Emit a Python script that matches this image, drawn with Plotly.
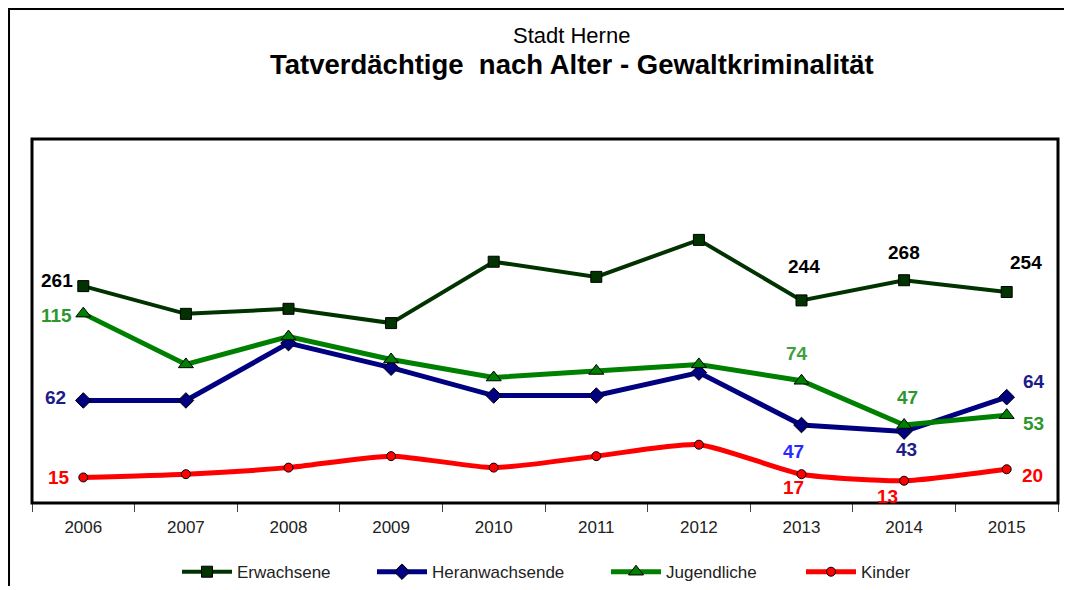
import plotly.graph_objects as go

# ---- data ----
years = ["2006", "2007", "2008", "2009", "2010", "2011", "2012", "2013", "2014", "2015"]
erwachsene = [261, 228, 234, 217, 290, 272, 316, 244, 268, 254]
heranwachsende = [62, 62, 97, 82, 65, 65, 79, 47, 43, 64]
jugendliche = [115, 84, 101, 87, 76, 80, 84, 74, 47, 53]
kinder = [15, 17, 21, 28, 21, 28, 35, 17, 13, 20]

xpos = list(range(len(years)))

FONT = "Arial, Liberation Sans, sans-serif"

fig = go.Figure()

fig.add_trace(go.Scatter(
    x=xpos, y=erwachsene, name="Erwachsene", yaxis="y2", mode="lines+markers",
    line=dict(color="#003300", width=4),
    marker=dict(symbol="square", size=11, color="#003300", line=dict(color="#000000", width=1)),
    legend="legend"))
fig.add_trace(go.Scatter(
    x=xpos, y=heranwachsende, name="Heranwachsende", mode="lines+markers",
    line=dict(color="#000080", width=5),
    marker=dict(symbol="diamond", size=12, color="#000080", line=dict(color="#000000", width=1)),
    legend="legend2"))
fig.add_trace(go.Scatter(
    x=xpos, y=jugendliche, name="Jugendliche", mode="lines+markers",
    line=dict(color="#008000", width=5),
    marker=dict(symbol="triangle-up", size=13, color="#008000", line=dict(color="#000000", width=1)),
    legend="legend3"))
fig.add_trace(go.Scatter(
    x=xpos, y=kinder, name="Kinder", mode="lines+markers",
    line=dict(color="#FF0000", width=5, shape="spline", smoothing=0.6),
    marker=dict(symbol="circle", size=9, color="#FF0000", line=dict(color="#000000", width=1)),
    legend="legend4"))

# ---- data labels ----
def lab(year, series, text, color, xs, ys, yref="y", xanchor="center"):
    i = years.index(year)
    fig.add_annotation(x=xpos[i], y=series[i], yref=yref, text=text, showarrow=False,
                       xshift=xs, yshift=ys, xanchor=xanchor,
                       font=dict(family=FONT, size=19, color=color, weight="bold"))

BLACK = "#000000"
GREEN = "#2E962E"
NAVY = "#1C1C8A"
BLUE = "#2A2AFF"
RED = "#FF0000"

lab("2006", erwachsene, "261", BLACK, -8, 6, "y2", "right")
lab("2013", erwachsene, "244", BLACK, 2, 34, "y2")
lab("2014", erwachsene, "268", BLACK, 0, 28, "y2")
lab("2015", erwachsene, "254", BLACK, 19, 30, "y2")

lab("2006", jugendliche, "115", GREEN, -9, -2, "y", "right")
lab("2013", jugendliche, "74", "#3FA03F", -5, 27)
lab("2014", jugendliche, "47", GREEN, 3, 28)
lab("2015", jugendliche, "53", GREEN, 27, -8)

lab("2006", heranwachsende, "62", NAVY, -15, 3, "y", "right")
lab("2013", heranwachsende, "47", BLUE, -8, -26)
lab("2014", heranwachsende, "43", NAVY, 2, -18)
lab("2015", heranwachsende, "64", NAVY, 27, 16)

lab("2006", kinder, "15", RED, -11, 0, "y", "right")
lab("2013", kinder, "17", RED, -8, -13)
lab("2014", kinder, "13", RED, -17, -16)
lab("2015", kinder, "20", RED, 26, -6)

# ---- titles ----
fig.add_annotation(x=0.526, y=1.2857, xref="paper", yref="paper", text="Stadt Herne",
                   yanchor="middle", showarrow=False,
                   font=dict(family=FONT, size=22, color="#000000"))
fig.add_annotation(x=0.526, y=1.2033, xref="paper", yref="paper",
                   text="Tatverdächtige&nbsp; nach Alter - Gewaltkriminalität",
                   yanchor="middle", showarrow=False,
                   font=dict(family=FONT, size=27.5, color="#000000", weight="bold"))

# ---- plot-area frame ----
fig.add_shape(type="rect", xref="paper", yref="paper", x0=0, x1=1, y0=0, y1=1,
              line=dict(color="#000000", width=3), layer="above")
# ---- outer chart frame: only left and top edges fall inside the figure ----
fig.add_shape(type="rect", xref="paper", yref="paper", x0=-0.0224, x1=1.2, y0=-0.5, y1=1.357,
              line=dict(color="#000000", width=2), fillcolor="rgba(0,0,0,0)", layer="below")

leg_common = dict(orientation="h", yanchor="middle", y=-0.19, xanchor="left", itemwidth=50,
                  bgcolor="rgba(0,0,0,0)", font=dict(family=FONT, size=17, color="#222222"))

fig.update_layout(
    width=1056, height=578,
    margin=dict(l=24, r=6, t=131, b=83, autoexpand=False),
    paper_bgcolor="#FFFFFF", plot_bgcolor="rgba(0,0,0,0)",
    font=dict(family=FONT),
    xaxis=dict(range=[-0.5, len(years) - 0.5], tickmode="array", tickvals=xpos, ticktext=years,
               ticks="", tickangle=0, showgrid=False, zeroline=False, showline=False,
               tickfont=dict(family=FONT, size=17, color="#222222"),
               minor=dict(tickmode="array", tickvals=[i - 0.5 for i in range(len(years) + 1)],
                          ticks="outside", ticklen=8, tickcolor="#444444", tickwidth=1,
                          showgrid=False),
               ticklabelstandoff=12, fixedrange=True),
    yaxis=dict(range=[-0.6, 221.6], visible=False, showgrid=False, zeroline=False),
    yaxis2=dict(range=[3, 436], overlaying="y", visible=False, showgrid=False, zeroline=False),
    legend=dict(x=(177 - 32) / 1026, **leg_common),
    legend2=dict(x=(372 - 32) / 1026, **leg_common),
    legend3=dict(x=(606 - 32) / 1026, **leg_common),
    legend4=dict(x=(801 - 32) / 1026, **leg_common),
    showlegend=True,
)

fig.write_html("out.html")
